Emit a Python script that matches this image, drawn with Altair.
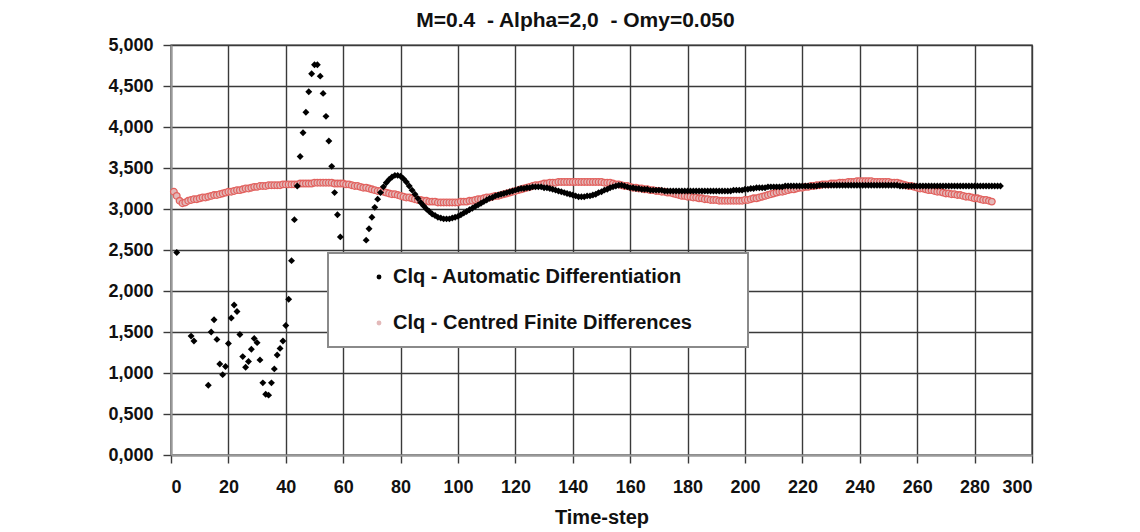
import altair as alt
import pandas as pd

# Clq history: Automatic Differentiation, scattered start (time-step, value)
ad_early_t = [2, 7, 8, 13, 14, 15, 16, 17, 18, 19, 20, 21, 22, 23, 24, 25, 26, 27,
              28, 29, 30, 31, 32, 33, 34, 35, 36, 37, 38, 39, 40, 41, 42, 43, 44,
              45, 46, 47, 48, 49, 50, 51, 52, 53, 54, 55, 56, 57, 58, 59, 60, 61,
              62, 63, 64, 65, 66, 67]
ad_early_v = [2.47, 1.45, 1.39, 0.85, 1.50, 1.65, 1.41, 1.11, 0.98, 1.08, 1.36, 1.67,
              1.83, 1.75, 1.47, 1.20, 1.07, 1.14, 1.29, 1.42, 1.37, 1.16, 0.88, 0.74,
              0.73, 0.88, 1.05, 1.22, 1.30, 1.39, 1.58, 1.90, 2.37, 2.87, 3.28, 3.64,
              3.93, 4.18, 4.43, 4.65, 4.76, 4.76, 4.62, 4.41, 4.13, 3.83, 3.52, 3.20,
              2.93, 2.66, 2.40, 2.15, 1.95, 1.85, 1.85, 1.97, 2.18, 2.42]

# Automatic Differentiation, one value per time-step from step 68 on
ad_late_start = 68
ad_late_v = [
    2.62, 2.76, 2.90, 3.02, 3.12,
    3.20, 3.27, 3.32, 3.36, 3.39, 3.41, 3.41, 3.40,
    3.37, 3.33, 3.28, 3.23, 3.18, 3.13, 3.08, 3.04, 3.00, 2.97,
    2.94, 2.92, 2.90, 2.89, 2.88, 2.88, 2.88, 2.89, 2.90, 2.91,
    2.93, 2.95, 2.97, 2.99, 3.01, 3.03, 3.05, 3.07, 3.09, 3.11,
    3.13, 3.14, 3.16, 3.17, 3.18, 3.19, 3.20, 3.21, 3.22, 3.23,
    3.24, 3.25, 3.25, 3.26, 3.26, 3.27, 3.27, 3.27, 3.27, 3.26,
    3.26, 3.25, 3.24, 3.23, 3.22, 3.21, 3.20, 3.19, 3.18, 3.17,
    3.16, 3.15, 3.15, 3.15, 3.16, 3.16, 3.17, 3.18, 3.20, 3.21,
    3.23, 3.24, 3.26, 3.27, 3.28, 3.29, 3.29, 3.28, 3.27, 3.26,
    3.26, 3.25, 3.25, 3.24, 3.24, 3.24, 3.23, 3.23, 3.23, 3.23,
    3.23, 3.22, 3.22, 3.22, 3.22, 3.22, 3.22, 3.22, 3.22, 3.22,
    3.22, 3.22, 3.22, 3.22, 3.22, 3.22, 3.22, 3.22, 3.22, 3.22,
    3.22, 3.22, 3.22, 3.22, 3.22, 3.23, 3.23, 3.23, 3.23, 3.24,
    3.24, 3.25, 3.25, 3.26, 3.26, 3.26, 3.26, 3.27, 3.27, 3.27,
    3.27, 3.27, 3.27, 3.28, 3.28, 3.28, 3.28, 3.28, 3.28, 3.28,
    3.28, 3.28, 3.28, 3.28, 3.28, 3.29, 3.29, 3.29, 3.29, 3.29,
    3.29, 3.29, 3.29, 3.29, 3.29, 3.29, 3.29, 3.29, 3.29, 3.29,
    3.29, 3.29, 3.29, 3.29, 3.29, 3.29, 3.29, 3.29, 3.29, 3.29,
    3.29, 3.29, 3.29, 3.28, 3.28, 3.28, 3.28, 3.28, 3.28, 3.28,
    3.28, 3.28, 3.28, 3.28, 3.28, 3.28, 3.28, 3.28, 3.28, 3.28,
    3.28, 3.28, 3.28, 3.28, 3.28, 3.28, 3.28, 3.28, 3.28, 3.28,
    3.28, 3.28, 3.28, 3.28, 3.28, 3.28, 3.28, 3.28, 3.28,
]

# Centred Finite Differences, one value per time-step from step 1 on
cfd_start = 1
cfd_v = [
    3.21, 3.16, 3.10, 3.07, 3.08, 3.10, 3.11, 3.12, 3.12, 3.13,
    3.14, 3.14, 3.15, 3.16, 3.17, 3.17, 3.18, 3.19, 3.20, 3.21,
    3.21, 3.22, 3.23, 3.23, 3.24, 3.25, 3.25, 3.26, 3.27, 3.27,
    3.28, 3.28, 3.28, 3.29, 3.29, 3.29, 3.29, 3.29, 3.30, 3.30,
    3.30, 3.30, 3.30, 3.30, 3.31, 3.31, 3.31, 3.31, 3.31, 3.32,
    3.32, 3.32, 3.32, 3.32, 3.32, 3.32, 3.31, 3.31, 3.31, 3.31,
    3.30, 3.30, 3.29, 3.28, 3.28, 3.27, 3.26, 3.26, 3.25, 3.24,
    3.23, 3.22, 3.22, 3.21, 3.20, 3.19, 3.18, 3.18, 3.17, 3.16,
    3.15, 3.14, 3.14, 3.13, 3.12, 3.11, 3.11, 3.10, 3.10, 3.09,
    3.09, 3.09, 3.08, 3.08, 3.08, 3.08, 3.08, 3.08, 3.08, 3.08,
    3.09, 3.09, 3.09, 3.10, 3.10, 3.11, 3.12, 3.12, 3.13, 3.14,
    3.14, 3.15, 3.16, 3.16, 3.17, 3.18, 3.19, 3.20, 3.21, 3.22,
    3.23, 3.24, 3.25, 3.26, 3.27, 3.28, 3.29, 3.29, 3.30, 3.31,
    3.31, 3.32, 3.32, 3.32, 3.33, 3.33, 3.33, 3.33, 3.33, 3.33,
    3.33, 3.33, 3.33, 3.33, 3.33, 3.33, 3.33, 3.33, 3.33, 3.33,
    3.32, 3.32, 3.32, 3.31, 3.30, 3.30, 3.29, 3.28, 3.28, 3.27,
    3.26, 3.26, 3.25, 3.25, 3.24, 3.24, 3.23, 3.23, 3.22, 3.22,
    3.21, 3.21, 3.20, 3.20, 3.19, 3.18, 3.17, 3.16, 3.16, 3.15,
    3.15, 3.14, 3.14, 3.13, 3.13, 3.12, 3.12, 3.11, 3.11, 3.11,
    3.10, 3.10, 3.10, 3.10, 3.10, 3.10, 3.10, 3.10, 3.10, 3.11,
    3.11, 3.12, 3.13, 3.13, 3.14, 3.15, 3.16, 3.17, 3.18, 3.19,
    3.20, 3.21, 3.21, 3.22, 3.23, 3.24, 3.24, 3.25, 3.26, 3.26,
    3.27, 3.27, 3.28, 3.28, 3.29, 3.29, 3.30, 3.30, 3.30, 3.31,
    3.31, 3.31, 3.32, 3.32, 3.32, 3.33, 3.33, 3.33, 3.34, 3.34,
    3.34, 3.34, 3.34, 3.34, 3.33, 3.33, 3.33, 3.33, 3.33, 3.33,
    3.32, 3.32, 3.32, 3.31, 3.30, 3.29, 3.28, 3.28, 3.27, 3.26,
    3.25, 3.25, 3.24, 3.23, 3.23, 3.22, 3.21, 3.21, 3.20, 3.19,
    3.19, 3.18, 3.18, 3.17, 3.17, 3.16, 3.15, 3.15, 3.14, 3.13,
    3.13, 3.12, 3.11, 3.11, 3.10, 3.09,
]

x_ticks = [0, 20, 40, 60, 80, 100, 120, 140, 160, 180, 200, 220, 240, 260, 280, 300]
y_ticks = [0.0, 0.5, 1.0, 1.5, 2.0, 2.5, 3.0, 3.5, 4.0, 4.5, 5.0]

AD = "Clq - Automatic Differentiation"
CFD = "Clq - Centred Finite Differences"
NBSP = "\u00a0"
TITLE = "M=0.4" + NBSP + " - Alpha=2,0" + NBSP + " - Omy=0.050"

ad_t = ad_early_t + [ad_late_start + i for i in range(len(ad_late_v))]
ad_df = pd.DataFrame({"step": ad_t, "clq": ad_early_v + ad_late_v, "series": AD})
cfd_df = pd.DataFrame({"step": [cfd_start + i for i in range(len(cfd_v))],
                       "clq": cfd_v, "series": CFD})

FONT = "Liberation Sans"

x_enc = alt.X("step:Q", scale=alt.Scale(domain=[0, 300], nice=False),
              axis=alt.Axis(values=x_ticks, title="Time-step", format="d"))
y_enc = alt.Y("clq:Q", scale=alt.Scale(domain=[0, 5], nice=False),
              axis=alt.Axis(values=y_ticks, title=None,
                            labelExpr="replace(format(datum.value, '.3f'), '.', ',')"))
# blank right-hand legend title: its padding gives the boxed legend extra room
color_enc = alt.Color(
    "series:N",
    scale=alt.Scale(domain=[AD, CFD], range=["#000000", "#e3b9b9"]),
    legend=alt.Legend(
        title=NBSP, titleOrient="right", titlePadding=42, titleFontSize=2,
        orient="none", legendX=157, legendY=208,
        fillColor="white", strokeColor="#8a8a8a",
        padding=14, rowPadding=26, symbolOffset=27, labelOffset=4,
        symbolType="circle", symbolSize=24, symbolStrokeWidth=0,
        labelFont=FONT, labelFontSize=20, labelFontWeight="bold",
        labelColor="#111111", labelLimit=700,
    ),
)

cfd_layer = alt.Chart(cfd_df).mark_point(
    filled=True, shape="circle", size=44, stroke="#e2625f", strokeWidth=1.3, opacity=1
).encode(x=x_enc, y=y_enc, color=color_enc)

ad_layer = alt.Chart(ad_df).mark_point(
    filled=True, shape="diamond", size=48, opacity=1
).encode(x=x_enc, y=y_enc, color=color_enc)

chart = alt.layer(cfd_layer, ad_layer).properties(
    width=861,
    height=410,
    autosize=alt.AutoSizeParams(type="none"),
    padding={"left": 171, "top": 45, "right": 108, "bottom": 77},
    title=alt.TitleParams(
        text=TITLE,
        font=FONT, fontSize=21, fontWeight="bold", color="#111111",
        anchor="middle", dx=-26, offset=5,
    ),
    background="white",
).configure_view(
    stroke="#3a3a3a", strokeWidth=1.4
).configure_legend(
    strokeWidth=2
).configure_axis(
    grid=True, gridColor="#3a3a3a", gridWidth=1.4, gridOpacity=1,
    domainColor="#9a9a9a", domainWidth=2,
    tickColor="#3a3a3a", tickSize=8, tickWidth=1.4,
    labelFont=FONT, labelFontSize=18, labelFontWeight="bold", labelColor="#111111",
    titleFont=FONT, titleFontSize=20, titleFontWeight="bold", titleColor="#111111",
).configure_axisX(
    labelPadding=15, titlePadding=11
).configure_axisY(
    labelPadding=10
)

chart.save("out.html", embed_options={"renderer": "svg", "actions": False})
